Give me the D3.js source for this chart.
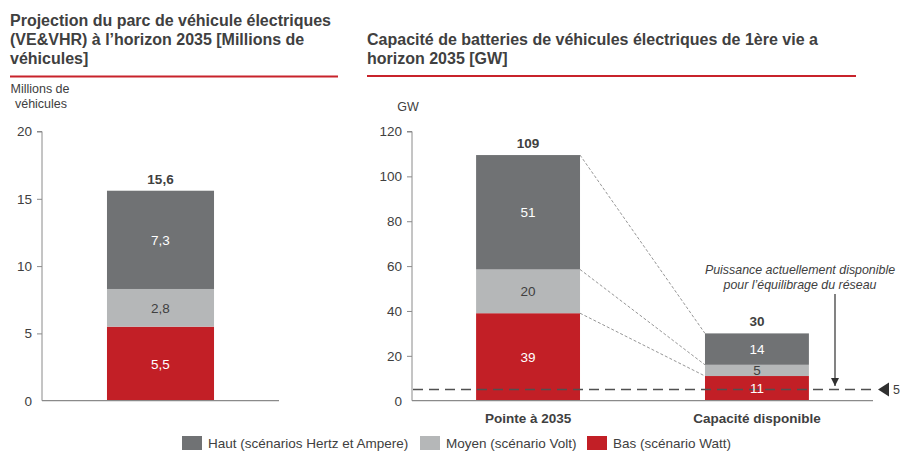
<!DOCTYPE html>
<html><head><meta charset="utf-8">
<script src="https://cdn.jsdelivr.net/npm/d3@7"></script>
<style>body{margin:0;background:#fff}svg{display:block}text{font-family:"Liberation Sans",Arial,sans-serif}</style>
</head><body>
<svg id="c" width="902" height="453"></svg>
<script>
// ---- data ----
const seriesNames = ["Haut (scénarios Hertz et Ampere)", "Moyen (scénario Volt)", "Bas (scénario Watt)"];
const seriesKeys = ["bas", "moyen", "haut"];
const leftCategories = [""];
const leftBas = [5.5];
const leftMoyen = [2.8];
const leftHaut = [7.3];
const leftTotals = ["15,6"];
const leftTicks = [0, 5, 10, 15, 20];
const rightCategories = ["Pointe à 2035", "Capacité disponible"];
const rightBas = [39, 11];
const rightMoyen = [19.5, 5];
const rightHaut = [51, 14];
const rightTotals = ["109", "30"];
const rightTicks = [0, 20, 40, 60, 80, 100, 120];
const thresholdValue = 5;
const leftSegLabels = [["5,5"], ["2,8"], ["7,3"]];
const rightSegLabels = [["39", "11"], ["20", "5"], ["51", "14"]];

const colors = {haut: "#707274", moyen: "#b5b7b8", bas: "#c21f26"};
const labelColors = {haut: "#ffffff", moyen: "#404040", bas: "#ffffff"};
const textCol = "#404040";

const svg = d3.select("#c");

function title(x, y, lines) {
  const t = svg.append("text").attr("x", x).attr("y", y).attr("fill", textCol)
    .attr("font-size", 16).attr("font-weight", "bold");
  lines.forEach((l, i) => t.append("tspan").attr("x", x).attr("dy", i ? 19 : 0).text(l));
}
title(10, 26, ["Projection du parc de véhicule électriques", "(VE&VHR) à l’horizon 2035 [Millions de", "véhicules]"]);
title(367, 45, ["Capacité de batteries de véhicules électriques de 1ère vie a", "horizon 2035 [GW]"]);
svg.append("line").attr("x1", 10).attr("x2", 338).attr("y1", 76.5).attr("y2", 76.5).attr("stroke", "#c8232b").attr("stroke-width", 2);
svg.append("line").attr("x1", 367).attr("x2", 856).attr("y1", 76).attr("y2", 76).attr("stroke", "#c8232b").attr("stroke-width", 2);

svg.append("text").attr("x", 40).attr("y", 93).attr("text-anchor", "middle").attr("font-size", 12.5).attr("fill", textCol).text("Millions de");
svg.append("text").attr("x", 41).attr("y", 108).attr("text-anchor", "middle").attr("font-size", 12.5).attr("fill", textCol).text("véhicules");
svg.append("text").attr("x", 408).attr("y", 111).attr("text-anchor", "middle").attr("font-size", 12.5).attr("fill", textCol).text("GW");

function stackRows(cats, bas, moy, haut) {
  return cats.map((c, i) => ({cat: c, bas: bas[i], moyen: moy[i], haut: haut[i]}));
}

function drawChart(opt) {
  const g = svg.append("g");
  const y = d3.scaleLinear().domain([0, opt.max]).range([400.7, 131.5]);
  const x = d3.scaleBand().domain(opt.cats).range([opt.x0, opt.x1]).paddingInner(opt.pi).paddingOuter(opt.po);
  const ax = g.append("g").attr("transform", `translate(${opt.x0},0)`)
    .call(d3.axisLeft(y).tickValues(opt.ticks).tickSize(5).tickPadding(5));
  ax.select(".domain").attr("stroke", "#8a8a8a").attr("d", `M-5,${y(opt.max)}H0V${y(0)}`);
  ax.selectAll(".tick line").attr("stroke", "#8a8a8a");
  ax.selectAll(".tick text").attr("font-size", 13.5).attr("fill", textCol).attr("font-family", '"Liberation Sans",Arial,sans-serif');
  ax.selectAll(".tick").filter(d => d === 0).select("line").remove();

  const rows = stackRows(opt.cats, opt.bas, opt.moy, opt.haut);
  const series = d3.stack().keys(seriesKeys)(rows);
  series.forEach(s => {
    g.selectAll(null).data(s).join("rect")
      .attr("x", d => x(d.data.cat)).attr("width", x.bandwidth())
      .attr("y", d => y(d[1])).attr("height", d => y(d[0]) - y(d[1]))
      .attr("fill", colors[s.key]);
  });
  g.append("line").attr("x1", opt.x0).attr("x2", opt.baseEnd).attr("y1", y(0)).attr("y2", y(0)).attr("stroke", "#8a8a8a").attr("stroke-width", 1.2);
  return {g, x, y, series};
}

function segLabels(ch, labels) {
  ch.series.forEach((s, si) => {
    ch.g.selectAll(null).data(s).join("text")
      .attr("x", d => ch.x(d.data.cat) + ch.x.bandwidth() / 2)
      .attr("y", d => ch.y((d[0] + d[1]) / 2) + 5)
      .attr("text-anchor", "middle").attr("font-size", 13.5)
      .attr("fill", labelColors[s.key])
      .text((d, i) => labels[si][i]);
  });
}
function totals(ch, tot) {
  const top = ch.series[ch.series.length - 1];
  ch.g.selectAll(null).data(top).join("text")
    .attr("x", d => ch.x(d.data.cat) + ch.x.bandwidth() / 2)
    .attr("y", d => ch.y(d[1]) - 7)
    .attr("text-anchor", "middle").attr("font-size", 13.5).attr("font-weight", "bold").attr("fill", textCol)
    .text((d, i) => tot[i]);
}

const L = drawChart({max: 20, cats: leftCategories, bas: leftBas, moy: leftMoyen, haut: leftHaut, ticks: leftTicks,
  x0: 42, x1: 279, pi: 0, po: 0.607, baseEnd: 279});
segLabels(L, leftSegLabels);
totals(L, leftTotals);

const R = drawChart({max: 120, cats: rightCategories, bas: rightBas, moy: rightMoyen, haut: rightHaut, ticks: rightTicks,
  x0: 412, x1: 873, pi: 0.546, po: 0.28, baseEnd: 873});

const c0 = rightCategories[0], c1 = rightCategories[1];
R.series.forEach(s => {
  R.g.insert("line", "rect").attr("x1", R.x(c0) + R.x.bandwidth()).attr("y1", R.y(s[0][1]))
    .attr("x2", R.x(c1)).attr("y2", R.y(s[1][1]))
    .attr("stroke", "#8a8a8a").attr("stroke-width", 0.9).attr("stroke-dasharray", "3,2");
});
R.g.append("line").attr("x1", 413).attr("x2", 873).attr("y1", R.y(thresholdValue)).attr("y2", R.y(thresholdValue))
  .attr("stroke", "#505050").attr("stroke-width", 1.5).attr("stroke-dasharray", "10,6");
segLabels(R, rightSegLabels);
totals(R, rightTotals);

const ty = R.y(thresholdValue);
svg.append("path").attr("d", `M878,${ty}L889,${ty - 7}L889,${ty + 7}Z`).attr("fill", "#303030");
svg.append("text").attr("x", 893).attr("y", ty + 5).attr("font-size", 12.5).attr("fill", textCol).text(String(thresholdValue));

svg.append("text").attr("x", 800).attr("y", 274).attr("text-anchor", "middle").attr("font-size", 12.4).attr("font-style", "italic").attr("fill", textCol).text("Puissance actuellement disponible");
svg.append("text").attr("x", 800).attr("y", 289).attr("text-anchor", "middle").attr("font-size", 12.4).attr("font-style", "italic").attr("fill", textCol).text("pour l’équilibrage du réseau");
svg.append("defs").append("marker").attr("id", "ah").attr("viewBox", "0 0 10 10").attr("refX", 10).attr("refY", 5)
  .attr("markerWidth", 7).attr("markerHeight", 7).attr("orient", "auto")
  .append("path").attr("d", "M0,0L10,5L0,10Z").attr("fill", "#303030");
svg.append("line").attr("x1", 835).attr("x2", 835).attr("y1", 294).attr("y2", 386).attr("stroke", "#303030").attr("stroke-width", 1.2).attr("marker-end", "url(#ah)");

R.g.selectAll(null).data(rightCategories).join("text")
  .attr("x", d => R.x(d) + R.x.bandwidth() / 2).attr("y", 423)
  .attr("text-anchor", "middle").attr("font-size", 13.5).attr("font-weight", "bold").attr("fill", textCol).text(d => d);

const legendKeys = ["haut", "moyen", "bas"];
const legendX = [182, 420, 587];
const lg = svg.append("g");
legendKeys.forEach((k, i) => {
  lg.append("rect").attr("x", legendX[i]).attr("y", 436).attr("width", 20).attr("height", 14).attr("fill", colors[k]);
  lg.append("text").attr("x", legendX[i] + 26).attr("y", 448).attr("font-size", 13.5).attr("fill", textCol).text(seriesNames[i]);
});
</script>
</body></html>
